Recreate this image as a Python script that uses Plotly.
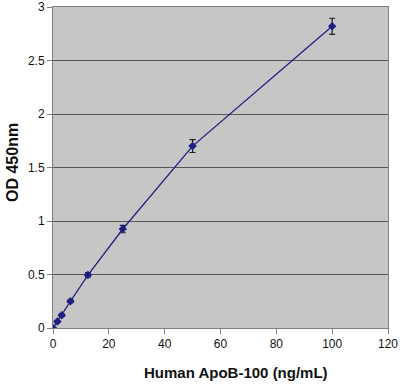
import plotly.graph_objects as go

conc = [0, 1.5625, 3.125, 6.25, 12.5, 25, 50, 100]
od = [0.0, 0.06, 0.12, 0.25, 0.495, 0.925, 1.70, 2.82]
err = [0.0, 0.01, 0.012, 0.012, 0.02, 0.035, 0.06, 0.075]

x_ticks = [0, 20, 40, 60, 80, 100, 120]
y_ticks = [0, 0.5, 1, 1.5, 2, 2.5, 3]
y_tick_text = ["0", "0.5", "1", "1.5", "2", "2.5", "3"]

x_title = "Human ApoB-100 (ng/mL)"
y_title = "OD 450nm"

fig = go.Figure()
fig.add_trace(go.Scatter(
    x=conc, y=od, mode="lines+markers",
    line=dict(color="#1F1F80", width=1.3),
    marker=dict(symbol="diamond", size=6.5, color="#1F1F80"),
    error_y=dict(type="data", array=err, visible=True, color="#202020", thickness=1.2, width=3),
    showlegend=False,
))

font = dict(family="Liberation Sans, Arial, sans-serif", size=12, color="#111111")
fig.update_layout(
    width=400, height=390,
    margin=dict(l=53, r=12, t=7, b=62),
    paper_bgcolor="white",
    plot_bgcolor="#C6C6C6",
    font=font,
    xaxis=dict(
        range=[0, 120], tickvals=x_ticks, showgrid=False, zeroline=False,
        showline=True, linecolor="#808080", linewidth=1, mirror=True,
        ticks="outside", ticklen=5, tickcolor="#808080", automargin=False,
    ),
    yaxis=dict(
        range=[0, 3], tickvals=y_ticks, ticktext=y_tick_text,
        showgrid=True, gridcolor="#555555", gridwidth=1, zeroline=False,
        showline=True, linecolor="#808080", linewidth=1, mirror=True,
        ticks="outside", ticklen=5, tickcolor="#808080", automargin=False,
    ),
    annotations=[
        dict(text="<b>" + x_title + "</b>", xref="paper", yref="paper",
             x=(236 - 53) / 335, y=-(372 - 328) / 321, xanchor="center", yanchor="middle",
             showarrow=False, font=dict(size=15, color="#111111")),
        dict(text="<b>" + y_title + "</b>", xref="paper", yref="paper",
             x=-(53 - 12) / 335, y=(328 - 163) / 321, xanchor="center", yanchor="middle",
             textangle=-90, showarrow=False, font=dict(size=16, color="#111111")),
    ],
)
fig.write_html("out.html", config={"displayModeBar": False},
               post_script="document.body.style.margin='0';document.body.style.overflow='hidden';")
